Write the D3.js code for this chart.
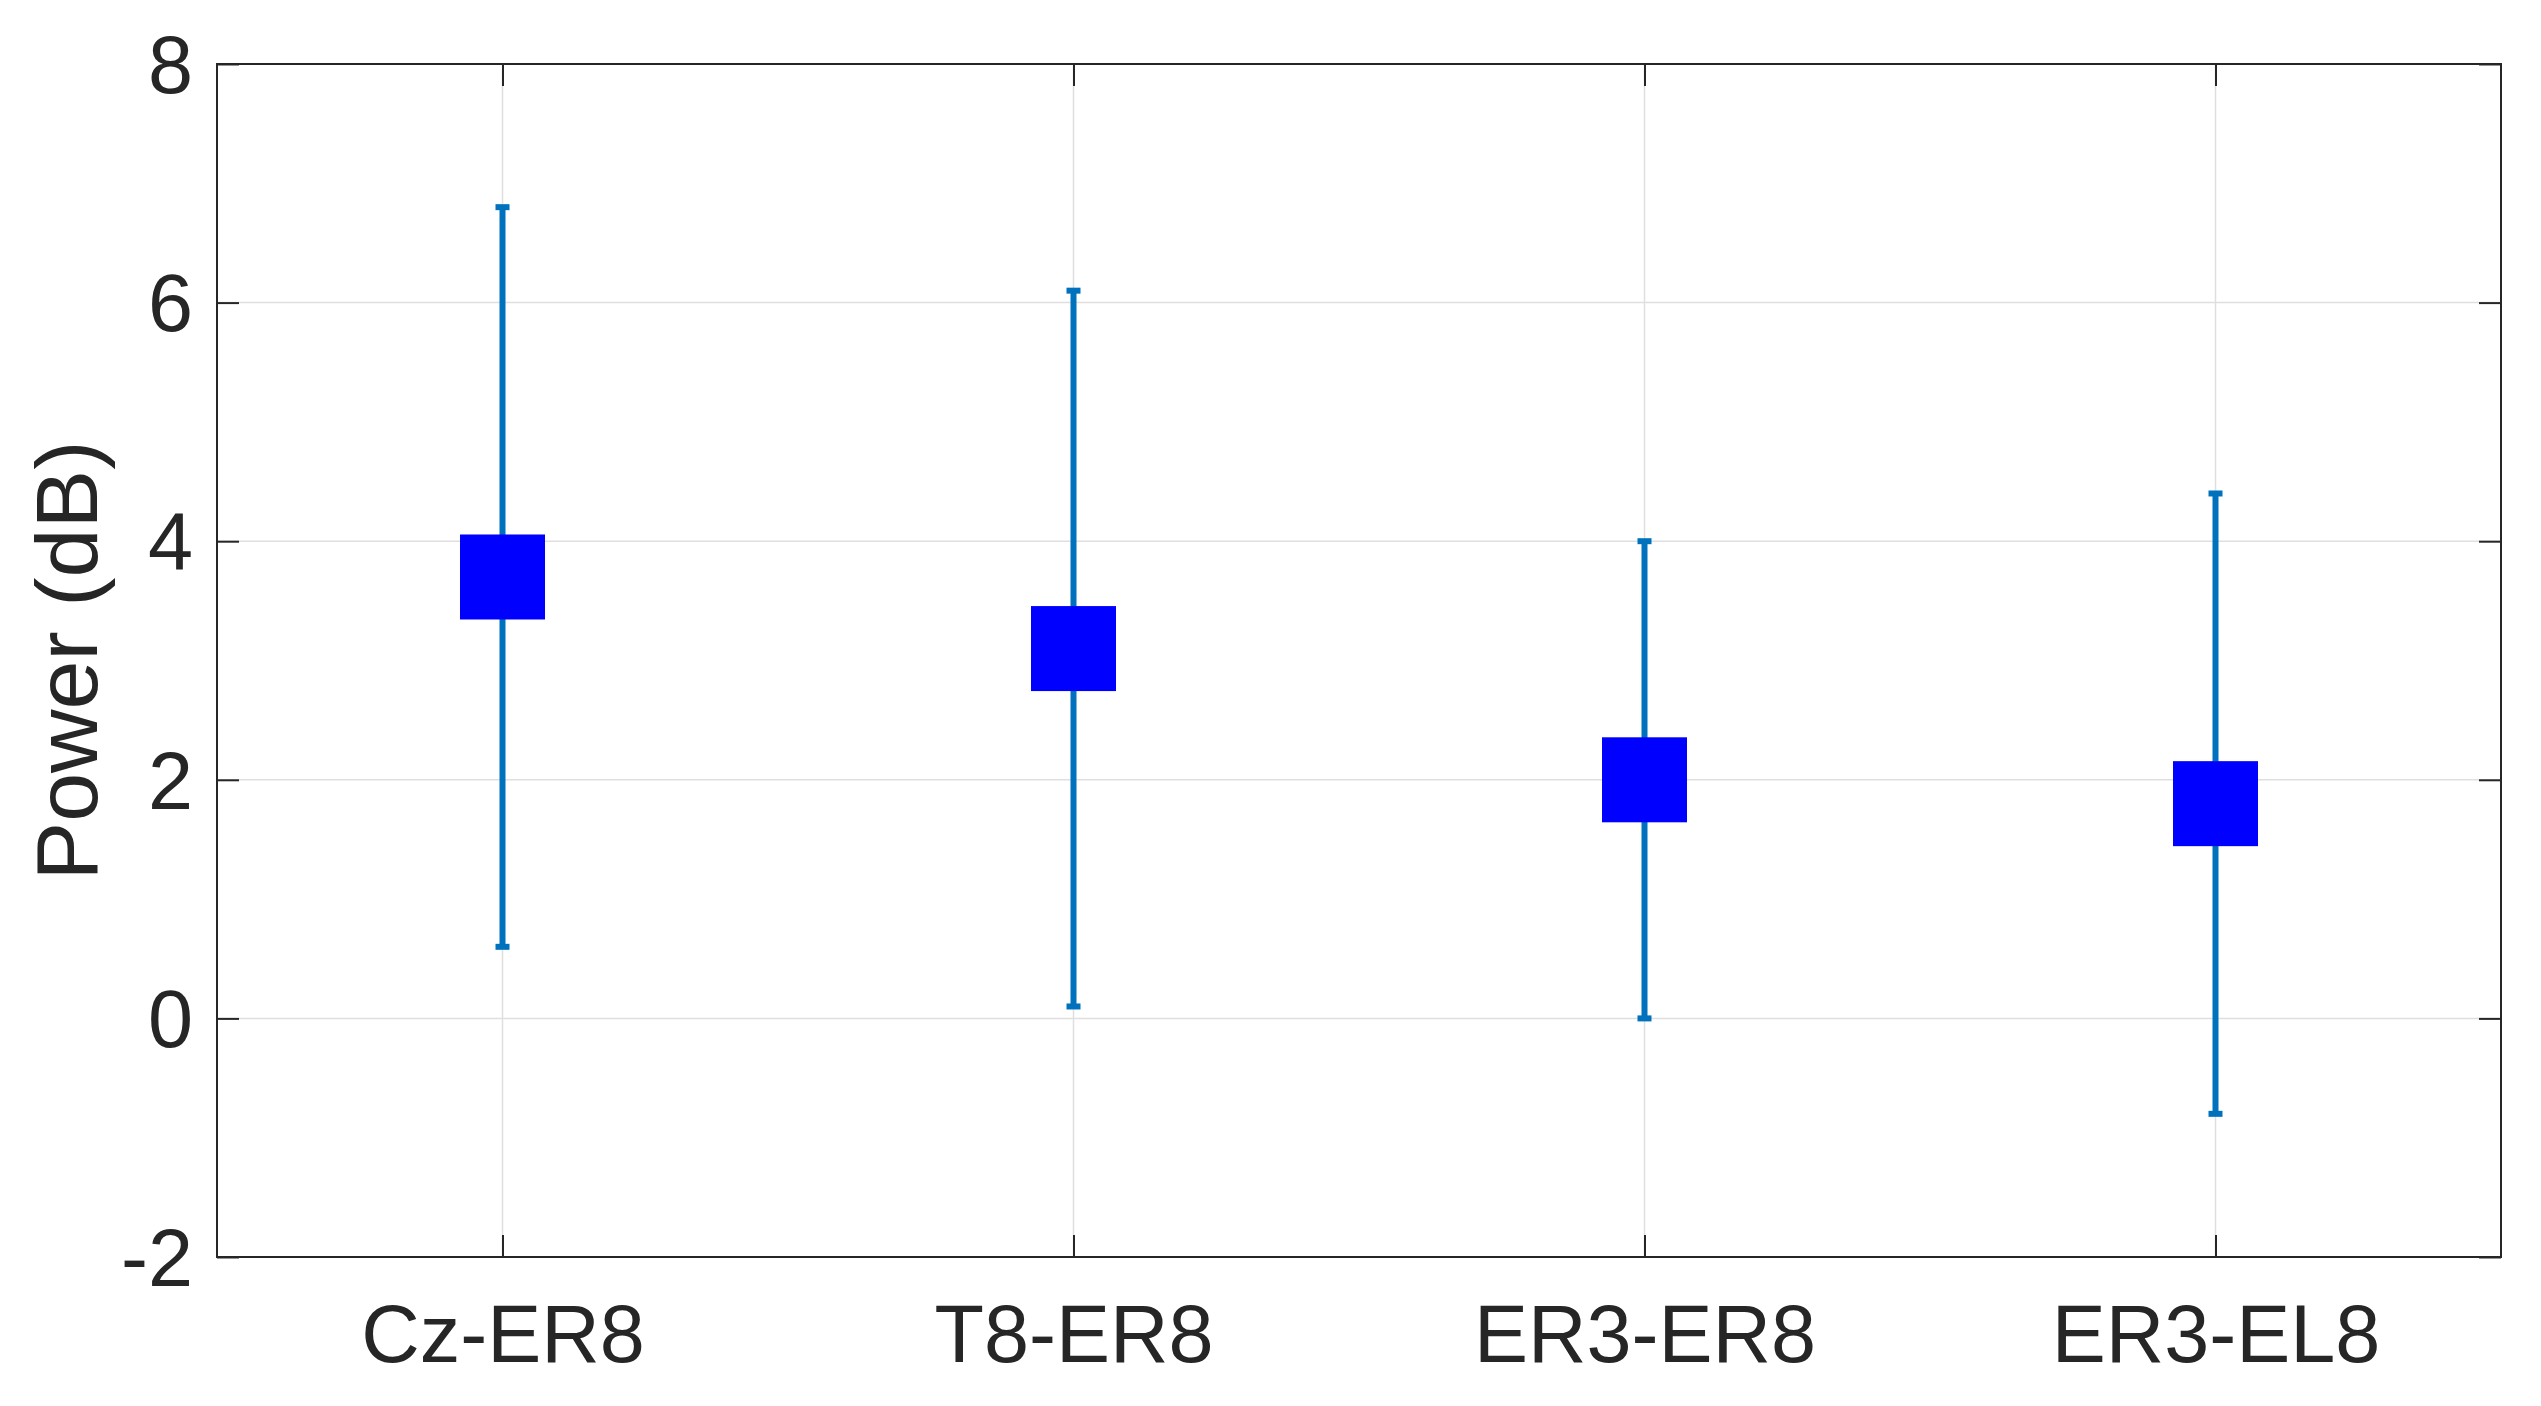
<!DOCTYPE html>
<html>
<head>
<meta charset="utf-8">
<script src="https://cdn.jsdelivr.net/npm/d3@7"></script>
<style>
  body { margin: 0; background: #fff; }
  svg { display: block; font-family: "Liberation Sans", Arial, sans-serif; }
</style>
</head>
<body>
<div id="chart"></div>
<script>
// data
const categories = ["Cz-ER8", "T8-ER8", "ER3-ER8", "ER3-EL8"];
const means = [3.7, 3.1, 2.0, 1.8];
const upper = [6.8, 6.1, 4.0, 4.4];
const lower = [0.6, 0.1, 0.0, -0.8];
const yTicks = [-2, 0, 2, 4, 6, 8];

const width = 2541, height = 1406;
const margin = { top: 64, right: 40, bottom: 149, left: 217 };

const svg = d3.select("#chart").append("svg")
  .attr("width", width)
  .attr("height", height);

const x = d3.scaleLinear()
  .domain([0.5, categories.length + 0.5])
  .range([margin.left, width - margin.right]);

const y = d3.scaleLinear()
  .domain([-2, 8])
  .range([height - margin.bottom, margin.top]);

const xIdx = categories.map((d, i) => i + 1);
const frameColor = "#262626";
const gridColor = "#dfdfdf";
const tickLen = 22;

// grid
svg.append("g").selectAll("line.gy")
  .data(yTicks)
  .join("line")
  .attr("x1", x.range()[0]).attr("x2", x.range()[1])
  .attr("y1", d => y(d)).attr("y2", d => y(d))
  .attr("stroke", gridColor).attr("stroke-width", 1.5);

svg.append("g").selectAll("line.gx")
  .data(xIdx)
  .join("line")
  .attr("x1", d => x(d)).attr("x2", d => x(d))
  .attr("y1", y.range()[0]).attr("y2", y.range()[1])
  .attr("stroke", gridColor).attr("stroke-width", 1.5);

// axes (ticks pointing inwards, on all four sides)
const yLeft = svg.append("g")
  .attr("transform", `translate(${margin.left},0)`)
  .call(d3.axisLeft(y).tickValues(yTicks).tickSize(-tickLen).tickPadding(24).tickFormat(d => String(d)));
const yRight = svg.append("g")
  .attr("transform", `translate(${width - margin.right},0)`)
  .call(d3.axisRight(y).tickValues(yTicks).tickSize(-tickLen).tickFormat(""));
const xBottom = svg.append("g")
  .attr("transform", `translate(0,${height - margin.bottom})`)
  .call(d3.axisBottom(x).tickValues(xIdx).tickSize(-tickLen).tickPadding(47).tickFormat((d, i) => categories[i]));
const xTop = svg.append("g")
  .attr("transform", `translate(0,${margin.top})`)
  .call(d3.axisTop(x).tickValues(xIdx).tickSize(-tickLen).tickFormat(""));

[yLeft, yRight, xBottom, xTop].forEach(g => {
  g.select(".domain").remove();
  g.selectAll(".tick line").attr("stroke", frameColor).attr("stroke-width", 2);
  g.selectAll("text")
    .attr("fill", frameColor)
    .style("font-size", "81px")
    .style("font-family", "'Liberation Sans', Arial, sans-serif");
});
xBottom.selectAll("text").attr("dy", "0.71em");
yLeft.selectAll("text").attr("dy", "0.35em");

// frame
svg.append("rect")
  .attr("x", x.range()[0]).attr("y", y.range()[1])
  .attr("width", x.range()[1] - x.range()[0])
  .attr("height", y.range()[0] - y.range()[1])
  .attr("fill", "none")
  .attr("stroke", frameColor)
  .attr("stroke-width", 2);

// error bars
const errColor = "#0072BD";
const capW = 14;
const bars = svg.append("g").selectAll("g")
  .data(categories.map((c, i) => ({ i: i + 1, m: means[i], lo: lower[i], hi: upper[i] })))
  .join("g");

bars.append("line")
  .attr("x1", d => x(d.i)).attr("x2", d => x(d.i))
  .attr("y1", d => y(d.lo)).attr("y2", d => y(d.hi))
  .attr("stroke", errColor).attr("stroke-width", 6);

bars.selectAll("line.cap")
  .data(d => [{ i: d.i, v: d.lo }, { i: d.i, v: d.hi }])
  .join("line")
  .attr("class", "cap")
  .attr("x1", d => x(d.i) - capW / 2).attr("x2", d => x(d.i) + capW / 2)
  .attr("y1", d => y(d.v)).attr("y2", d => y(d.v))
  .attr("stroke", errColor).attr("stroke-width", 6);

// square markers
const sq = 85;
bars.append("rect")
  .attr("x", d => x(d.i) - sq / 2)
  .attr("y", d => y(d.m) - sq / 2)
  .attr("width", sq).attr("height", sq)
  .attr("fill", "#0000FF");

// y axis label
svg.append("text")
  .attr("transform", `translate(97,${(y.range()[0] + y.range()[1]) / 2}) rotate(-90)`)
  .attr("text-anchor", "middle")
  .attr("fill", frameColor)
  .style("font-size", "88px")
  .text("Power (dB)");
</script>
</body>
</html>
